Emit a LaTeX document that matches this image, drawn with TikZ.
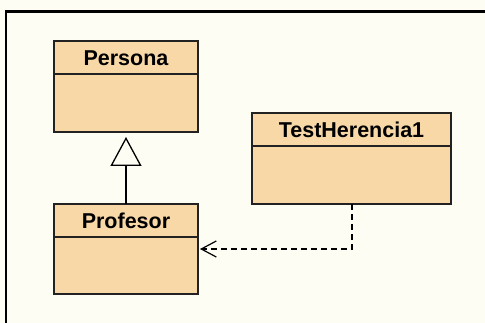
\documentclass[tikz,border=0pt]{standalone}
\usepackage{fontspec}
\setmainfont{Liberation Sans}
\usetikzlibrary{arrows.meta}
\definecolor{bgc}{HTML}{FDFDF4}
\definecolor{boxfill}{HTML}{F9D8A8}
\definecolor{boxline}{HTML}{222222}
\tikzset{
  umlbox/.style={draw=boxline, line width=1.4pt, fill=boxfill},
  sepline/.style={draw=boxline, line width=1.2pt},
  title/.style={font=\fontsize{21.5}{25}\selectfont\bfseries, text=black, inner sep=0pt},
  frame/.style={line width=2.4pt, black},
  inherit/.style={line width=1.3pt, -{Triangle[open, length=29pt, width=31pt, line width=1.3pt]}},
  depend/.style={line width=1.2pt, dash pattern=on 6pt off 4pt, -{Straight Barb[length=15pt, width=16pt, line width=1.2pt]}}
}
\begin{document}
\begin{tikzpicture}[x=1pt, y=-1pt]
\useasboundingbox (0,0) rectangle (485,323);
\fill[bgc] (0,0) rectangle (485,323);
% frame (top and left edges only)
\draw[frame] (6,323) -- (6,11.5) -- (485,11.5);
% Persona
\draw[umlbox] (54,41) rectangle (198,132);
\draw[sepline] (54,74) -- (198,74);
\node[title] (persona) at (126,58) {Persona};
\coordinate (personaBot) at (126,132);
% Profesor
\draw[umlbox] (54,204) rectangle (198,294);
\draw[sepline] (54,237) -- (198,237);
\node[title] (profesor) at (126,221) {Profesor};
\coordinate (profesorTop) at (126,204);
\coordinate (profesorRight) at (200,249);
% TestHerencia1
\draw[umlbox] (252,113) rectangle (451,204);
\draw[sepline] (252,146) -- (451,146);
\node[title] (test) at (351.5,130) {TestHerencia1};
\coordinate (testBot) at (352,204);
% connectors
\draw[inherit] (profesorTop) -- ([yshift=-5pt]personaBot);
\draw[depend] (testBot) |- (profesorRight);
\end{tikzpicture}
\end{document}
